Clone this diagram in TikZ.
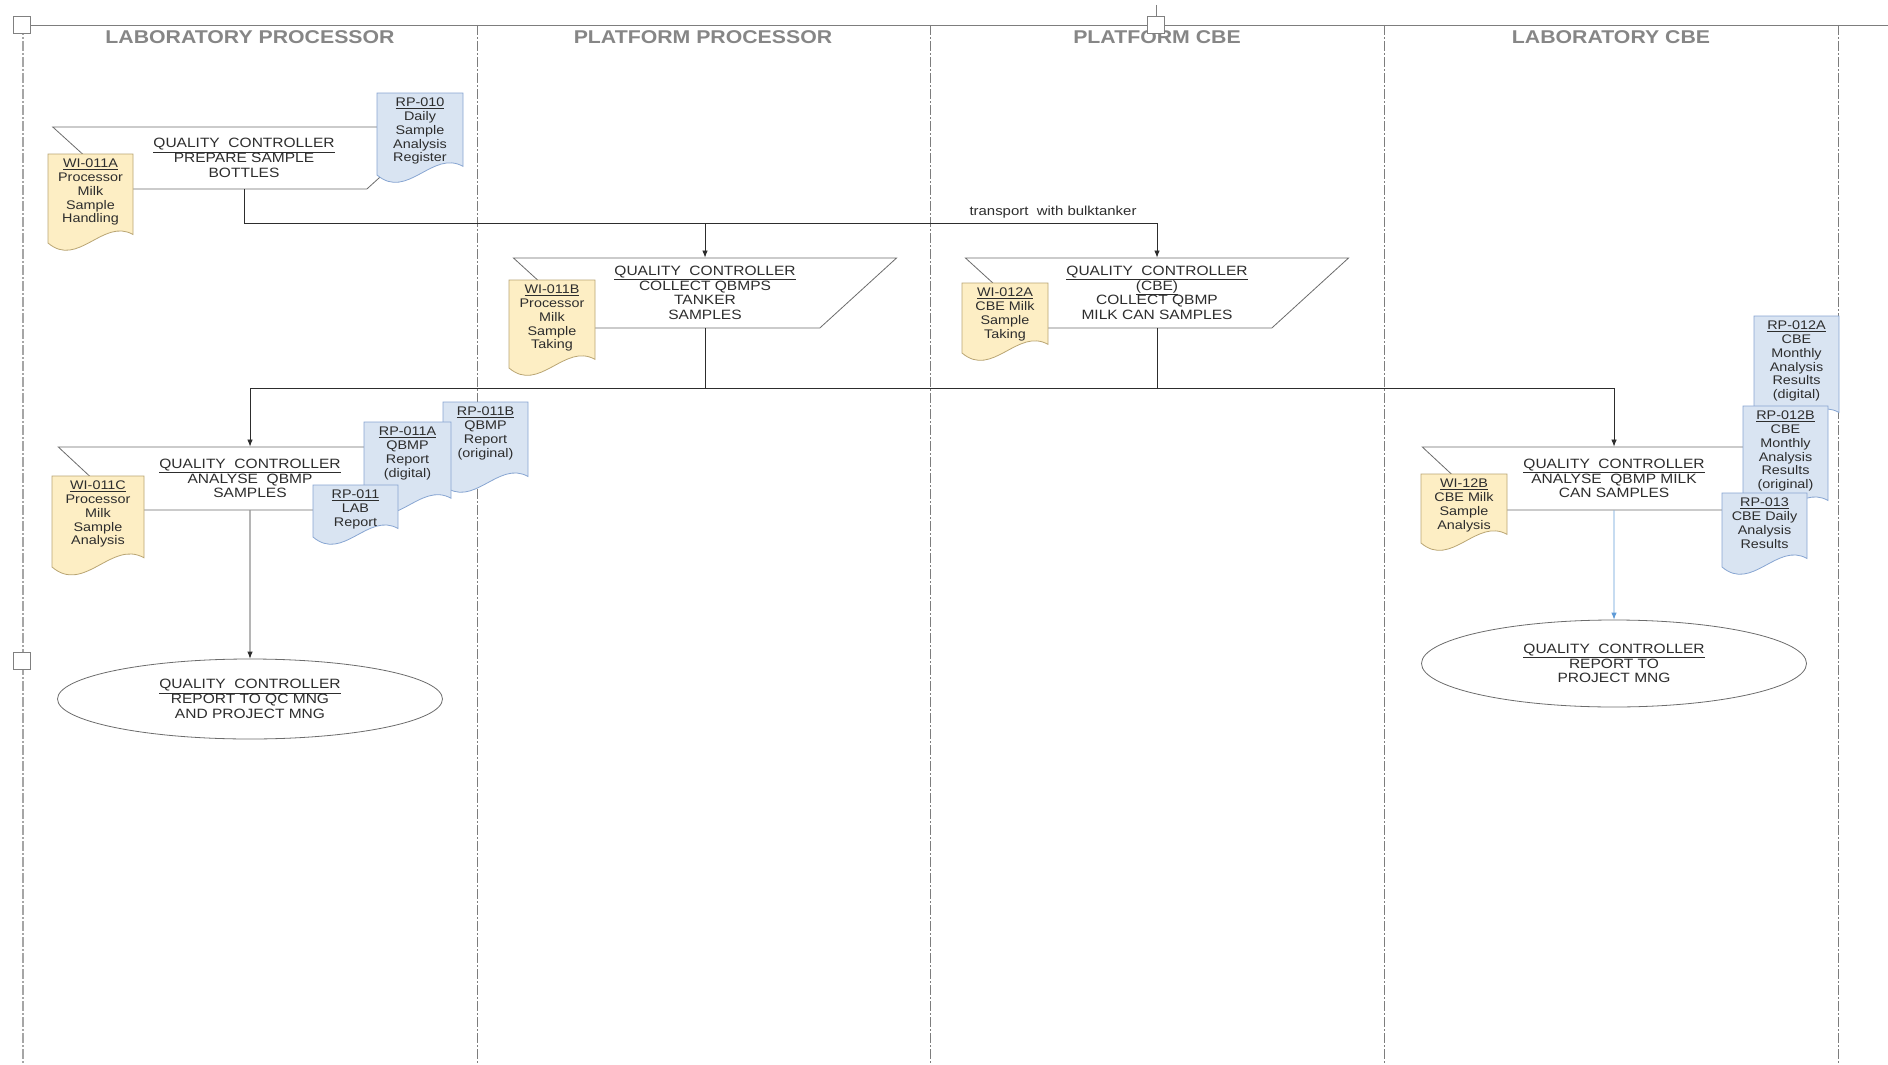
\documentclass[tikz,border=0pt]{standalone}
\usepackage{fontspec}
\setmainfont{Liberation Sans}[FakeStretch=1.15]
\usetikzlibrary{shapes.geometric,arrows.meta}
\definecolor{docyellow}{RGB}{253,238,196}
\definecolor{docyellowline}{RGB}{185,165,115}
\definecolor{docblue}{RGB}{217,228,242}
\definecolor{docblueline}{RGB}{135,165,210}
\definecolor{laneline}{RGB}{125,125,125}
\definecolor{flowblue}{RGB}{95,155,215}
\definecolor{inkgray}{RGB}{45,45,45}

% document symbol: name, x, y, width, height, colours, text
\newcommand{\docnode}[7]{%
  \filldraw[#6] (#2,#3) -- ({#2+#4},#3) -- ({#2+#4},{#3+#5-0.1*#4})
    .. controls ({#2+0.65*#4},{#3+#5-0.3*#4}) and ({#2+0.35*#4},{#3+#5+0.3*#4}) .. (#2,{#3+#5}) -- cycle;
  \node[doctext] (#1) at ({#2+0.5*#4},{#3+5}) {#7};
}

\tikzset{
  lanetitle/.style={font=\fontsize{18.5}{20}\selectfont\bfseries, text=gray!95},
  procbox/.style={trapezium, shape border rotate=180, trapezium stretches=true,
    draw=gray!85!black, fill=white, line width=0.8pt, minimum width=384pt,
    align=center, inner sep=1pt, text=inkgray, font=\fontsize{13.5}{14.7}\selectfont},
  endbox/.style={ellipse, draw=gray!85!black, fill=white, line width=0.8pt,
    minimum width=385pt, align=center, text=inkgray, font=\fontsize{13.5}{14.7}\selectfont},
  doctext/.style={align=center, inner sep=0pt, anchor=north, text=inkgray,
    font=\fontsize{12.5}{13.7}\selectfont},
  yellowdoc/.style={fill=docyellow, draw=docyellowline, line width=0.8pt},
  bluedoc/.style={fill=docblue, draw=docblueline, line width=0.8pt},
  lane/.style={laneline, line width=0.8pt, dash pattern=on 10pt off 2pt on 2pt off 2pt},
  flow/.style={inkgray, line width=0.8pt, -{Latex[length=7pt,width=5.5pt]}},
  handle/.style={draw=gray, fill=white, line width=0.8pt}
}

\begin{document}
\begin{tikzpicture}[x=1pt, y=-1pt]
  \useasboundingbox (0,0) rectangle (1888,1065);
  % swimlanes
  \draw[laneline, line width=0.8pt] (22,25) -- (1888,25);
  \draw[lane, line width=2pt, gray!70] (23,25) -- (23,1065);
  \foreach \lx in {477,930,1384,1838}
    \draw[lane] (\lx,25) -- (\lx,1065);
  \node[lanetitle] (t1) at (250,37) {LABORATORY PROCESSOR};
  \node[lanetitle] (t2) at (703,37) {PLATFORM PROCESSOR};
  \node[lanetitle] (t3) at (1157,37) {PLATFORM CBE};
  \node[lanetitle] (t4) at (1611,37) {LABORATORY CBE};

  % processes
  \node[procbox, minimum height=62pt, trapezium angle=38.8] (prep) at (244,158)
    {\underline{QUALITY\ \ CONTROLLER}\\PREPARE SAMPLE\\BOTTLES};
  \node[procbox, minimum height=70pt, trapezium angle=42.3] (colproc) at (705,293)
    {\underline{QUALITY\ \ CONTROLLER}\\COLLECT QBMPS\\TANKER\\SAMPLES};
  \node[procbox, minimum height=70pt, trapezium angle=42.3] (colcbe) at (1157,293)
    {\underline{QUALITY\ \ CONTROLLER}\\\underline{(CBE)}\\COLLECT QBMP\\MILK CAN SAMPLES};
  \node[procbox, minimum height=63pt, trapezium angle=39.3] (anaproc) at (250,478.5)
    {\underline{QUALITY\ \ CONTROLLER}\\ANALYSE\ \ QBMP\\SAMPLES};
  \node[procbox, minimum height=63pt, trapezium angle=39.3] (anacbe) at (1614,478.5)
    {\underline{QUALITY\ \ CONTROLLER}\\ANALYSE\ \ QBMP MILK\\CAN SAMPLES};
  \node[endbox, minimum height=80pt] (repproc) at (250,699)
    {\underline{QUALITY\ \ CONTROLLER}\\REPORT TO QC MNG\\AND PROJECT MNG};
  \node[endbox, minimum height=87pt] (repcbe) at (1614,663.5)
    {\underline{QUALITY\ \ CONTROLLER}\\REPORT TO\\PROJECT MNG};

  % flows
  \draw[flow] (prep.south) -- ++(0,34) coordinate (j1) -| (colproc.north);
  \draw[flow] (j1) -| (colcbe.north);
  \node[text=inkgray, font=\fontsize{13}{14}\selectfont] (bulk) at (1053,212) {transport\ \ with bulktanker};
  \draw[flow] (colproc.south) -- ++(0,60) coordinate (j2) -| (anaproc.north);
  \draw[flow] (colcbe.south) -- ++(0,60) coordinate (j3) -| (anacbe.north);
  \draw[inkgray, line width=0.8pt] (j2) -- (j3);
  \draw[flow] (anaproc.south) -- (repproc.north);
  \draw[flow, flowblue] (anacbe.south) -- (repcbe.north);

  % documents
  \docnode{wi011a}{48}{154}{85}{89}{yellowdoc}{\underline{WI-011A}\\Processor\\Milk\\Sample\\Handling}
  \docnode{rp010}{377}{93}{86}{82}{bluedoc}{\underline{RP-010}\\Daily\\Sample\\Analysis\\Register}
  \docnode{wi011b}{509}{280}{86}{88}{yellowdoc}{\underline{WI-011B}\\Processor\\Milk\\Sample\\Taking}
  \docnode{wi012a}{962}{283}{86}{70}{yellowdoc}{\underline{WI-012A}\\CBE Milk\\Sample\\Taking}
  \docnode{wi011c}{52}{476}{92}{91}{yellowdoc}{\underline{WI-011C}\\Processor\\Milk\\Sample\\Analysis}
  \docnode{rp011b}{443}{402}{85}{83}{bluedoc}{\underline{RP-011B}\\QBMP\\Report\\(original)}
  \docnode{rp011a}{364}{422}{87}{85}{bluedoc}{\underline{RP-011A}\\QBMP\\Report\\(digital)}
  \docnode{rp011}{313}{485}{85}{52}{bluedoc}{\underline{RP-011}\\LAB\\Report}
  \docnode{wi12b}{1421}{474}{86}{69}{yellowdoc}{\underline{WI-12B}\\CBE Milk\\Sample\\Analysis}
  \docnode{rp012a}{1754}{316}{85}{105}{bluedoc}{\underline{RP-012A}\\CBE\\Monthly\\Analysis\\Results\\(digital)}
  \docnode{rp012b}{1743}{406}{85}{103}{bluedoc}{\underline{RP-012B}\\CBE\\Monthly\\Analysis\\Results\\(original)}
  \docnode{rp013}{1722}{493}{85}{74}{bluedoc}{\underline{RP-013}\\CBE Daily\\Analysis\\Results}

  % selection handles
  \draw[handle] (13.5,16.5) rectangle ++(17,17);
  \draw[handle] (13.5,652) rectangle ++(17,17);
  \draw[gray, line width=0.8pt] (1156,5) -- (1156,16);
  \draw[handle] (1147.5,16) rectangle ++(17,17);
\end{tikzpicture}
\end{document}
